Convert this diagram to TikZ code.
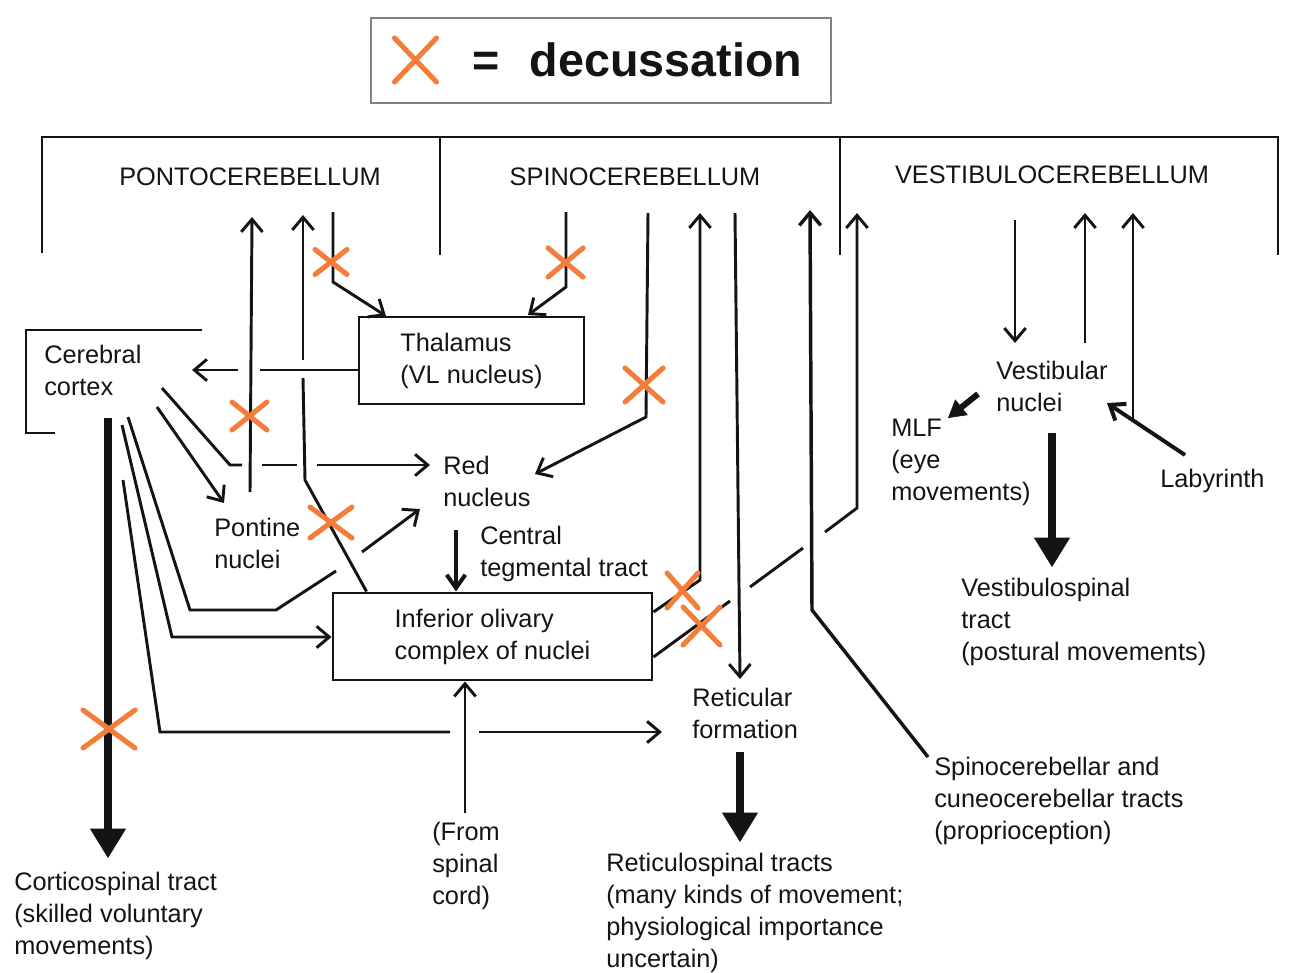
\documentclass[tikz,border=0pt]{standalone}
\usepackage{fontspec}
\setmainfont{Liberation Sans}
\usetikzlibrary{arrows.meta}
\definecolor{decor}{RGB}{244,125,58}
\definecolor{legendgray}{RGB}{130,130,130}
\definecolor{ink}{RGB}{20,20,20}
\newcommand\decusmark[4]{\draw[decx] ({#1-#3},{#2-#4}) -- ({#1+#3},{#2+#4}) ({#1-#3},{#2+#4}) -- ({#1+#3},{#2-#4});}
\tikzset{
  txt/.style={font=\fontsize{19}{24}\selectfont, inner sep=0pt, align=left, anchor=north west, text=ink},
  region/.style={font=\fontsize{19}{24}\selectfont, inner sep=0pt, text=ink},
  box/.style={draw=ink, line width=2.2pt, inner sep=0pt, align=left, font=\fontsize{19}{24}\selectfont, text=ink},
  conn/.style={draw=ink, line width=2.2pt},
  arr/.style={conn, -{Straight Barb[length=9.5pt,width=16pt]}},
  fat/.style={draw=ink, line width=6pt, -{Triangle[length=22pt,width=27pt,line width=0.5pt]}},
  bracketline/.style={draw=ink, line width=2.2pt},
  decx/.style={draw=decor, line width=3.8pt, line cap=round},
}
\begin{document}
\begin{tikzpicture}[x=0.75pt,y=-0.75pt]
\useasboundingbox (0,0) rectangle (1295,972);
% legend
\node[draw=legendgray, line width=1.3pt, minimum width=345pt, minimum height=63.75pt, inner sep=0pt] (legend) at (601,60.5) {};
\node[font=\bfseries\fontsize{35}{40}\selectfont, anchor=base, inner sep=0pt, text=ink] (eq) at (486,76) {=};
\node[font=\bfseries\fontsize{35}{40}\selectfont, anchor=base, inner sep=0pt, text=ink] (decword) at (666,76) {decussation};
\decusmark{415.5}{60}{21}{22}

% cerebellum bracket
\draw[bracketline] (42,253) -- (42,137) -- (1278,137) -- (1278,255);
\draw[bracketline] (440,137) -- (440,255);
\draw[bracketline] (840,137) -- (840,255);
\node[region] (ponto) at (250,177) {PONTOCEREBELLUM};
\node[region] (spino) at (635,177) {SPINOCEREBELLUM};
\node[region] (vestc) at (1052,175) {VESTIBULOCEREBELLUM};

% cortex
\node[txt] (cortex) at (44,345) {Cerebral\\cortex};
\draw[conn] (202,330) -- (26,330) -- (26,433) -- (55,433);

% boxes
\node[box, minimum width=168.75pt, minimum height=65.25pt] (thal) at (471.5,360.5) {Thalamus\\(VL nucleus)};
\node[box, minimum width=239.25pt, minimum height=65.25pt] (olive) at (492.5,636.5) {Inferior olivary\\complex of nuclei};

% labels
\node[txt] (red) at (443,456) {Red\\nucleus};
\node[txt] (pontine) at (214,518) {Pontine\\nuclei};
\node[txt] (ctt) at (480,526) {Central\\tegmental tract};
\node[txt] (retic) at (692,688) {Reticular\\formation};
\node[txt] (vestn) at (996,361) {Vestibular\\nuclei};
\node[txt] (mlf) at (891,419) {MLF\\(eye\\movements)};
\node[txt] (laby) at (1160,469) {Labyrinth};
\node[txt] (vspinal) at (961,578) {Vestibulospinal\\tract\\(postural movements)};
\node[txt] (scc) at (934,757) {Spinocerebellar and\\cuneocerebellar tracts\\(proprioception)};
\node[txt] (rspinal) at (606,853) {Reticulospinal tracts\\(many kinds of movement;\\physiological importance\\uncertain)};
\node[txt] (cspinal) at (14,872) {Corticospinal tract\\(skilled voluntary\\movements)};
\node[txt] (fromsc) at (432,822) {(From\\spinal\\cord)};

% pontine nuclei -> pontocerebellum
\draw[arr] (250,492) -- (252,217);
% olive -> pontocerebellum (broken at thalamic line)
\draw[conn] (olive.north west) ++(35,0) -- (305,480) -- (303,378);
\draw[arr] (303,360) -- (303,215);
% thalamus -> cortex
\draw[conn] (thal.west |- 0,370) -- (260,370);
\draw[arr] (238,370) -- (192,370);
% pontocerebellum -> thalamus
\draw[arr] (333,212) -- (333,282) -- (386,316);
% spinocerebellum -> thalamus
\draw[arr] (566,212) -- (566,287) -- (528,315);
% cortex -> red nucleus (upper)
\draw[conn] (162,388) -- (230,465) -- (242,465);
\draw[conn] (262,465) -- (297,465);
\draw[arr] (317,465) -- (430,465);
% cortex -> pontine nuclei
\draw[arr] (157,407) -- (224,503);
% cortex -> red nucleus (lower loop)
\draw[conn] (128,417) -- (190,610) -- (276,610) -- (336,571);
\draw[arr] (362,552) -- (420,509);
% cortex -> olive
\draw[arr] (122,425) -- (172,637) -- (olive.west |- 0,637);
% cortex -> reticular formation
\draw[conn] (123,480) -- (160,732) -- (450,732);
\draw[arr] (479,732) -- (662,732);
% spinal cord -> olive
\draw[arr] (465,813) -- (olive.south -| 465,0);
% red nucleus -> olive (central tegmental tract)
\draw[draw=ink, line width=3pt, -{Straight Barb[length=10pt,width=14pt]}] (456,530) -- (olive.north -| 456,0);
% spinocerebellum -> red nucleus
\draw[arr] (648,213) -- (646,417) -- (535,474);
% olive -> spinocerebellum
\draw[arr] (olive.east |- 0,612) -- (700,580) -- (700,213);
% spinocerebellum -> reticular formation
\draw[arr] (735,213) -- (740,679);
% olive -> vestibulocerebellum
\draw[conn] (olive.east |- 0,657) -- (730,601);
\draw[conn] (750,587) -- (803,548);
\draw[arr] (825,532) -- (857,508) -- (857,213);
% spinocerebellar tracts
\draw[draw=ink, line width=2.6pt, -{Straight Barb[length=9.5pt,width=16pt]}] (928,757) -- (812,610) -- (810,210);
% vestibulocerebellum
\draw[arr] (1015,220) -- (1015,343);
\draw[arr] (1085,343) -- (1085,213);
\draw[arr] (1133,420) -- (1133,213);
\draw[draw=ink, line width=3pt, -{Straight Barb[length=10pt,width=15pt]}] (1185,455) -- (1107,403);
\draw[draw=ink, line width=4.5pt, -{Triangle[length=13pt,width=15pt,line width=0.5pt]}] (978,394) -- (948,418);
\draw[fat] (1052,433) -- (1052,567);
\draw[fat] (740,752) -- (740,842);
\draw[fat] (108,418) -- (108,858);

% decussations
\decusmark{331}{262}{16}{12.5}
\decusmark{565.5}{262.5}{17.5}{14.5}
\decusmark{249.5}{416}{17.5}{14}
\decusmark{644}{385}{19}{17}
\decusmark{331}{522.5}{21}{15.5}
\decusmark{682.5}{590.5}{15.5}{17.5}
\decusmark{701.5}{626}{18.5}{19}
\decusmark{109}{729}{26}{19}
\end{tikzpicture}
\end{document}
